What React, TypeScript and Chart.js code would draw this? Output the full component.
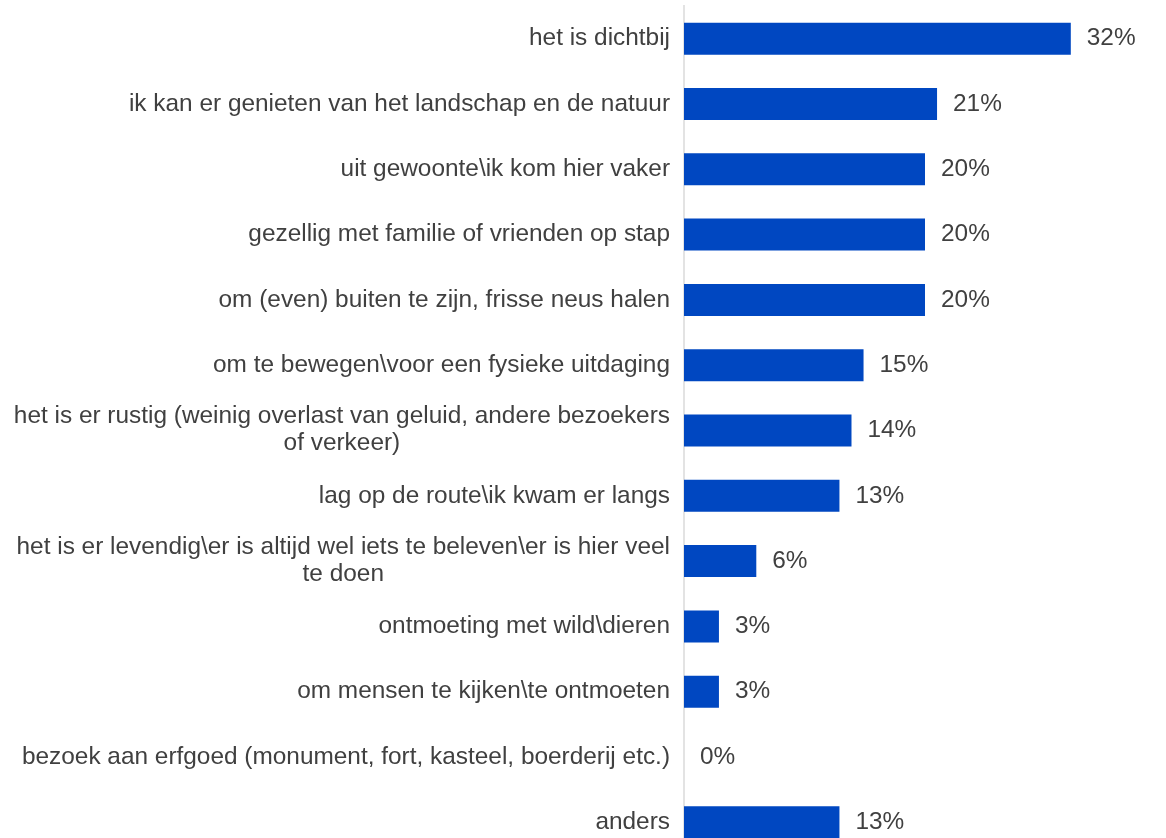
import React, { useEffect, useRef } from "react";
import { Chart, registerables } from "chart.js";

Chart.register(...registerables);

const categories: string[][] = [
  ["het is dichtbij"],
  ["ik kan er genieten van het landschap en de natuur"],
  ["uit gewoonte\\ik kom hier vaker"],
  ["gezellig met familie of vrienden op stap"],
  ["om (even) buiten te zijn, frisse neus halen"],
  ["om te bewegen\\voor een fysieke uitdaging"],
  ["het is er rustig (weinig overlast van geluid, andere bezoekers", "of verkeer)"],
  ["lag op de route\\ik kwam er langs"],
  ["het is er levendig\\er is altijd wel iets te beleven\\er is hier veel", "te doen"],
  ["ontmoeting met wild\\dieren"],
  ["om mensen te kijken\\te ontmoeten"],
  ["bezoek aan erfgoed (monument, fort, kasteel, boerderij etc.)"],
  ["anders"],
];

const values: number[] = [32.1, 21.0, 20.0, 20.0, 20.0, 14.9, 13.9, 12.9, 6.0, 2.9, 2.9, 0, 12.9];

const xMax = 40;

const FONT = '24.4px "Liberation Sans", Arial, sans-serif';
const TEXT_COLOR = "#404040";
const BAR_COLOR = "#0047C1";

const labelPlugin = {
  id: "customLabels",
  afterDatasetsDraw(chart: any) {
    const ctx = chart.ctx as CanvasRenderingContext2D;
    const yScale = chart.scales.y;
    ctx.save();
    ctx.font = FONT;
    ctx.fillStyle = TEXT_COLOR;
    ctx.textBaseline = "middle";
    const right = 670;
    categories.forEach((lines, i) => {
      const y = yScale.getPixelForValue(i);
      if (lines.length === 1) {
        ctx.textAlign = "right";
        ctx.fillText(lines[0], right, y);
      } else {
        const w = ctx.measureText(lines[0]).width;
        const cx = right - w / 2;
        ctx.textAlign = "right";
        ctx.fillText(lines[0], right, y - 14);
        ctx.textAlign = "center";
        ctx.fillText(lines[1], cx, y + 13);
      }
    });
    const meta = chart.getDatasetMeta(0);
    ctx.textAlign = "left";
    meta.data.forEach((el: any, i: number) => {
      ctx.fillText(Math.round(values[i]) + "%", el.x + 16, el.y);
    });
    ctx.restore();
  },
};

export default function App() {
  const ref = useRef<HTMLCanvasElement>(null);
  useEffect(() => {
    if (!ref.current) return;
    const chart = new Chart(ref.current, {
      type: "bar",
      data: {
        labels: categories.map((l) => l.join(" ")),
        datasets: [
          {
            data: values,
            backgroundColor: BAR_COLOR,
            borderWidth: 0,
            barPercentage: 0.49,
            categoryPercentage: 1,
          },
        ],
      },
      options: {
        indexAxis: "y",
        animation: false,
        responsive: true,
        maintainAspectRatio: false,
        layout: { padding: { top: 6, left: 0, right: 0, bottom: 0 } },
        plugins: {
          legend: { display: false },
          tooltip: { enabled: false },
        },
        scales: {
          x: {
            display: false,
            min: 0,
            max: xMax,
          },
          y: {
            display: true,
            grid: { display: false, drawTicks: false },
            border: { display: true, color: "#e3e3e3", width: 2 },
            ticks: { display: false },
            afterFit: (s: any) => {
              s.width = 684;
            },
          },
        },
      },
      plugins: [labelPlugin],
    });
    return () => chart.destroy();
  }, []);

  return (
    <div style={{ position: "fixed", inset: 0, overflow: "hidden", background: "#fff" }}>
      <div style={{ position: "absolute", left: 0, top: 0, width: 1166, height: 855 }}>
        <canvas ref={ref} />
      </div>
    </div>
  );
}
